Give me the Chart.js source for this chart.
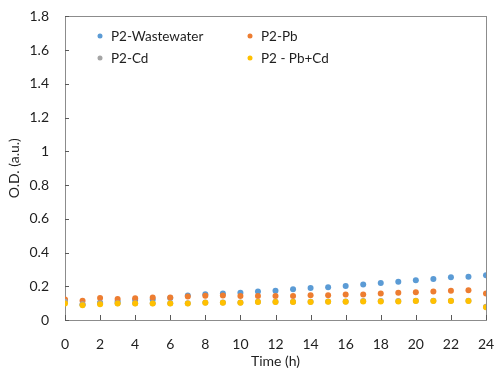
<!DOCTYPE html>
<html>
<head>
<meta charset="utf-8">
<script src="https://cdn.jsdelivr.net/npm/chart.js@4/dist/chart.umd.min.js"></script>
<style>
  html, body { margin: 0; padding: 0; background: #fff; }
  #wrap { width: 494px; height: 370px; }
</style>
</head>
<body>
<div id="wrap"><canvas id="myChart" width="494" height="370"></canvas></div>
<script>
const hours = [0, 1, 2, 3, 4, 5, 6, 7, 8, 9, 10, 11, 12, 13, 14, 15, 16, 17, 18, 19, 20, 21, 22, 23, 24];

const wastewater = [0.115, 0.090, 0.102, 0.110, 0.118, 0.122, 0.130, 0.145, 0.152, 0.157, 0.161, 0.169, 0.173, 0.182, 0.190, 0.194, 0.202, 0.210, 0.220, 0.227, 0.235, 0.243, 0.253, 0.257, 0.265];
const pb = [0.122, 0.114, 0.131, 0.125, 0.129, 0.133, 0.133, 0.139, 0.144, 0.145, 0.143, 0.143, 0.143, 0.143, 0.147, 0.147, 0.151, 0.151, 0.157, 0.161, 0.165, 0.169, 0.173, 0.176, 0.157];
const cd = [0.108, 0.094, 0.100, 0.100, 0.100, 0.100, 0.100, 0.100, 0.104, 0.104, 0.104, 0.108, 0.108, 0.108, 0.108, 0.110, 0.110, 0.112, 0.112, 0.112, 0.114, 0.114, 0.114, 0.114, 0.078];
const pbcd = [0.098, 0.088, 0.094, 0.098, 0.098, 0.098, 0.098, 0.098, 0.102, 0.102, 0.102, 0.106, 0.106, 0.106, 0.106, 0.108, 0.108, 0.110, 0.110, 0.110, 0.112, 0.112, 0.112, 0.112, 0.075];

const seriesNames = ['P2-Wastewater', 'P2-Pb', 'P2-Cd', 'P2 - Pb+Cd'];
const seriesColors = ['#5B9BD5', '#ED7D31', '#A5A5A5', '#FFC000'];
const seriesValues = [wastewater, pb, cd, pbcd];

const FONT = 'Lato, "Open Sans", sans-serif';
const TEXT = '#1f1f1f';

// ticks drawn inward plus the box around the plot
const frame = {
    id: 'frame',
    beforeDatasetsDraw(chart) {
        const { ctx, chartArea: a, scales: { x, y } } = chart;
        ctx.save();
        ctx.strokeStyle = '#8c8c8c';
        ctx.lineWidth = 1;
        ctx.strokeRect(Math.round(a.left) + 0.5, Math.round(a.top) + 0.5,
            Math.round(a.right - a.left), Math.round(a.bottom - a.top));
        ctx.strokeStyle = '#595959';
        ctx.beginPath();
        y.ticks.forEach(t => {
            const py = Math.round(y.getPixelForValue(t.value)) + 0.5;
            ctx.moveTo(a.left, py);
            ctx.lineTo(a.left + 4, py);
        });
        x.ticks.forEach(t => {
            const px = Math.round(x.getPixelForValue(t.value)) + 0.5;
            ctx.moveTo(px, a.bottom);
            ctx.lineTo(px, a.bottom - 5);
        });
        ctx.stroke();
        ctx.restore();
    }
};

// two-column legend inside the plot
const insideLegend = {
    id: 'insideLegend',
    afterDraw(chart) {
        const { ctx } = chart;
        const cols = [100, 250];
        const rows = [36, 58];
        ctx.save();
        ctx.font = '13.5px ' + FONT;
        ctx.textBaseline = 'middle';
        chart.data.datasets.forEach((ds, i) => {
            const cx = cols[i % 2], cy = rows[Math.floor(i / 2)];
            ctx.fillStyle = ds.backgroundColor;
            ctx.beginPath();
            ctx.arc(cx, cy, 2.5, 0, Math.PI * 2);
            ctx.fill();
            ctx.fillStyle = TEXT;
            ctx.fillText(ds.label, cx + 11, cy + 1);
        });
        ctx.restore();
    }
};

var ctx = document.getElementById('myChart').getContext('2d');

var myChart = new Chart(ctx, {
    type: 'scatter',
    data: {
        datasets: seriesNames.map((name, i) => ({
            label: name,
            data: hours.map((h, j) => ({ x: h, y: seriesValues[i][j] })),
            backgroundColor: seriesColors[i],
            borderColor: seriesColors[i],
            borderWidth: 0,
            pointRadius: 3,
            showLine: false,
            // later series sit on top of earlier ones
            order: seriesNames.length - i
        }))
    },
    options: {
        responsive: false,
        animation: false,
        layout: { padding: { left: 0, right: 0, top: 10, bottom: 0 } },
        plugins: {
            legend: { display: false },
            tooltip: { enabled: false }
        },
        scales: {
            x: {
                type: 'linear',
                min: 0,
                max: 24,
                afterFit(scale) {
                    scale.height = 50;
                    scale.paddingRight = 8;
                },
                border: { display: false },
                grid: { display: false },
                ticks: {
                    stepSize: 2,
                    padding: 8,
                    maxRotation: 0,
                    color: TEXT,
                    font: { family: FONT, size: 14 }
                },
                title: {
                    display: true,
                    text: 'Time (h)',
                    color: TEXT,
                    padding: { top: 0, bottom: 0 },
                    font: { family: FONT, size: 14 }
                }
            },
            y: {
                min: 0,
                max: 1.8,
                afterFit(scale) { scale.width = 65; },
                border: { display: false },
                grid: { display: false },
                ticks: {
                    stepSize: 0.2,
                    padding: 8,
                    color: TEXT,
                    font: { family: FONT, size: 14 },
                    callback: v => Math.round(v * 10) / 10
                },
                title: {
                    display: true,
                    text: 'O.D. (a.u.)',
                    color: TEXT,
                    padding: { top: 6, bottom: 0 },
                    font: { family: FONT, size: 14 }
                }
            }
        }
    },
    plugins: [frame, insideLegend]
});
</script>
</body>
</html>
